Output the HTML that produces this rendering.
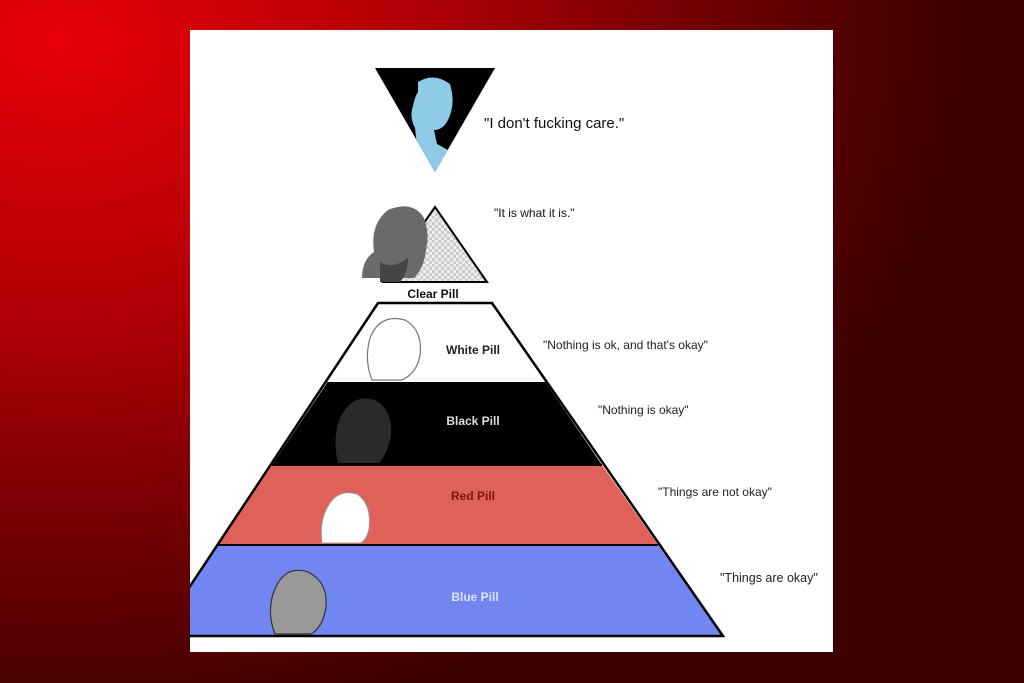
<!DOCTYPE html>
<html><head><style>
body{margin:0;width:1024px;height:683px;overflow:hidden;background:radial-gradient(ellipse 900px 700px at 60px 40px,#e80008 0%,#b00006 40%,#6a0003 75%,#3c0000 100%);font-family:"Liberation Sans",sans-serif;}
#p{position:absolute;left:190px;top:30px;width:643px;height:622px;background:#fff;overflow:hidden;}
svg{position:absolute;left:0;top:0}
</style></head><body>
<div id="p">
<svg width="643" height="622" viewBox="190 30 643 622">
<defs><pattern id="ck" width="6" height="6" patternUnits="userSpaceOnUse"><rect width="6" height="6" fill="#eee"/><rect width="3" height="3" fill="#ccc"/><rect x="3" y="3" width="3" height="3" fill="#ccc"/></pattern>
<clipPath id="tri"><polygon points="375,68 495,68 435,172"/></clipPath></defs>
<!-- inverted triangle -->
<polygon points="375,68 495,68 435,172" fill="#000"/>
<g clip-path="url(#tri)">
<path d="M418,82 q16,-10 32,2 q6,20 -2,36 q-5,10 -14,10 l3,14 l22,12 l-30,30 l-28,-25 l16,-15 l-2,-18 q-6,-12 -2,-22 q2,-10 5,-14 z" fill="#8ecbe6"/>
</g>
<text x="484" y="128" font-size="15" fill="#111">"I don't fucking care."</text>
<!-- clear pill -->
<polygon points="435,207 487,282 383,282" fill="url(#ck)" stroke="#000" stroke-width="2"/>
<path d="M362,278 q0,-18 12,-26 q-4,-28 14,-42 q25,-10 36,8 q6,16 2,32 q-2,18 -12,28 z" fill="#6a6a6a"/>
<path d="M380,262 q12,8 28,-4 q0,15 -8,24 l-20,0 z" fill="#444"/>
<text x="433" y="298" font-size="12" font-weight="bold" text-anchor="middle" fill="#111">Clear Pill</text>
<text x="494" y="217" font-size="12" fill="#111">"It is what it is."</text>
<!-- pyramid -->
<polygon points="378,303 492,303 546,383 327,383" fill="#fff"/>
<polygon points="327,383 546,383 602,465 272,465" fill="#000"/>
<polygon points="272,465 602,465 658,545 217,545" fill="#e0605a"/>
<polygon points="217,545 658,545 723,636 157,636" fill="#7186f0"/>
<polygon points="378,303 492,303 723,636 157,636" fill="none" stroke="#000" stroke-width="2.5"/>
<line x1="327" y1="383" x2="546" y2="383" stroke="#000" stroke-width="2"/>
<line x1="272" y1="465" x2="602" y2="465" stroke="#000" stroke-width="2"/>
<line x1="217" y1="545" x2="658" y2="545" stroke="#000" stroke-width="2"/>
<!-- faces -->
<path d="M372,380 q-8,-20 -2,-42 q10,-25 35,-18 q18,10 15,35 q-3,18 -18,25 z" fill="#fff" stroke="#777" stroke-width="1.2"/>
<path d="M338,463 q-6,-25 2,-45 q12,-25 35,-18 q18,10 16,35 q-3,18 -12,28 z" fill="#2a2a2a"/>
<path d="M322,543 q-3,-20 5,-35 q10,-20 30,-14 q15,10 12,35 q-2,10 -8,14 z" fill="#fff" stroke="#999" stroke-width="1"/>
<path d="M275,634 q-8,-20 -2,-40 q10,-30 35,-22 q20,10 18,35 q-3,20 -15,27 z" fill="#999" stroke="#333" stroke-width="1.2"/>
<text x="473" y="354" font-size="12" font-weight="bold" text-anchor="middle" fill="#222">White Pill</text>
<text x="473" y="425" font-size="12" font-weight="bold" text-anchor="middle" fill="#ddd">Black Pill</text>
<text x="473" y="500" font-size="12" font-weight="bold" text-anchor="middle" fill="#7a1515">Red Pill</text>
<text x="475" y="601" font-size="12" font-weight="bold" text-anchor="middle" fill="#dde3ff">Blue Pill</text>
<text x="543" y="349" font-size="12" fill="#222">"Nothing is ok, and that's okay"</text>
<text x="598" y="414" font-size="12" fill="#222">"Nothing is okay"</text>
<text x="658" y="496" font-size="12" fill="#222">"Things are not okay"</text>
<text x="720" y="582" font-size="12.5" fill="#222">"Things are okay"</text>
</svg>
</div>
</body></html>
